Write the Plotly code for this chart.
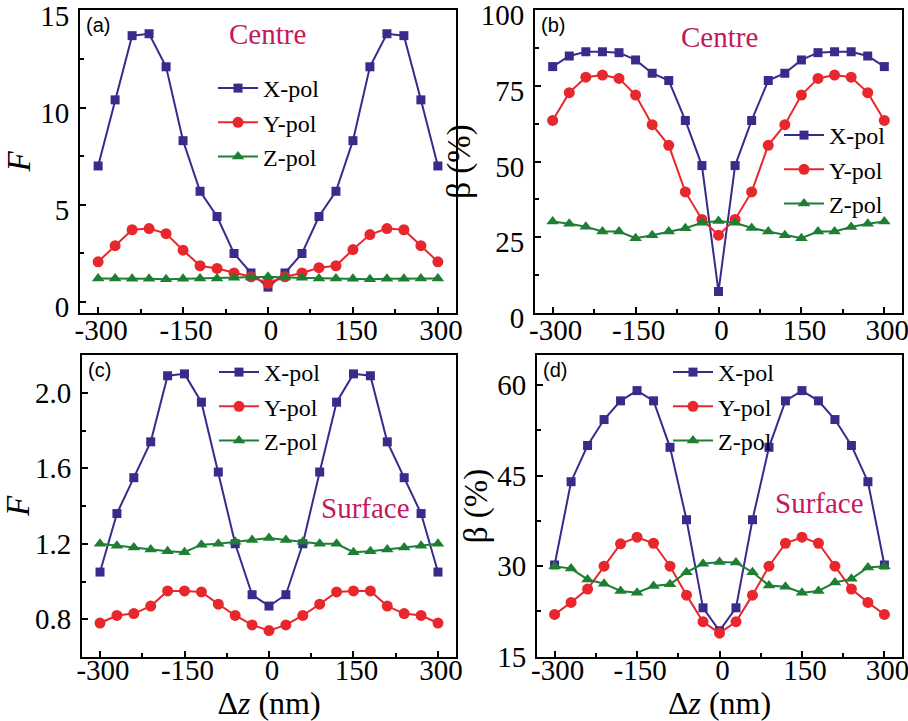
import plotly.graph_objects as go

dz = [-300, -270, -240, -210, -180, -150, -120, -90, -60, -30, 0,
      30, 60, 90, 120, 150, 180, 210, 240, 270, 300]

# (a) Centre, enhancement factor F
a_x = [7.0, 10.4, 13.7, 13.8, 12.1, 8.3, 5.7, 4.4, 2.5, 1.5, 0.77,
       1.5, 2.5, 4.4, 5.7, 8.3, 12.1, 13.8, 13.7, 10.4, 7.0]
a_y = [2.07, 2.9, 3.72, 3.78, 3.52, 2.67, 1.87, 1.73, 1.5, 1.3, 0.97,
       1.3, 1.5, 1.77, 1.87, 2.7, 3.47, 3.78, 3.72, 2.9, 2.07]
a_z = [1.22, 1.22, 1.2, 1.2, 1.18, 1.2, 1.22, 1.22, 1.25, 1.27, 1.3,
       1.27, 1.25, 1.22, 1.22, 1.2, 1.18, 1.2, 1.2, 1.22, 1.22]

# (b) Centre, beta (%)
b_x = [81.4, 84.9, 86.3, 86.3, 86.0, 83.6, 79.2, 76.8, 63.6, 48.7, 7.1,
       48.7, 63.6, 76.8, 79.2, 83.6, 86.0, 86.3, 86.3, 84.9, 81.4]
b_y = [63.6, 72.8, 77.9, 78.6, 77.5, 72.0, 62.2, 55.4, 40.0, 30.9, 25.7,
       30.9, 40.0, 55.4, 62.2, 72.0, 77.5, 78.6, 77.9, 72.8, 63.6]
b_z = [30.2, 29.5, 28.5, 26.9, 26.9, 24.7, 25.7, 26.9, 28.0, 29.8, 30.4,
       29.8, 28.1, 26.9, 25.7, 24.7, 26.9, 26.9, 28.4, 29.5, 30.2]

# (c) Surface, F
c_x = [1.05, 1.36, 1.55, 1.74, 2.09, 2.10, 1.95, 1.58, 1.20, 0.93, 0.87,
       0.93, 1.20, 1.58, 1.95, 2.10, 2.09, 1.74, 1.55, 1.36, 1.05]
c_y = [0.78, 0.82, 0.83, 0.87, 0.95, 0.95, 0.945, 0.88, 0.82, 0.77, 0.74,
       0.77, 0.82, 0.88, 0.945, 0.95, 0.95, 0.87, 0.83, 0.82, 0.78]
c_z = [1.20, 1.19, 1.18, 1.17, 1.16, 1.155, 1.195, 1.20, 1.21, 1.22, 1.23,
       1.22, 1.21, 1.20, 1.20, 1.155, 1.16, 1.17, 1.18, 1.19, 1.20]

# (d) Surface, beta (%)
d_x = [30.2, 44.0, 50.0, 54.3, 57.4, 59.1, 57.4, 49.7, 37.7, 23.1, 19.3,
       23.1, 37.7, 49.7, 57.4, 59.1, 57.4, 54.3, 50.0, 44.0, 30.2]
d_y = [22.0, 24.0, 26.2, 30.0, 33.7, 34.8, 33.8, 30.0, 25.2, 20.8, 18.9,
       20.8, 25.2, 30.0, 33.8, 34.8, 33.8, 30.0, 26.2, 24.0, 22.0]
d_z = [30.0, 29.6, 27.8, 27.1, 25.9, 25.6, 26.7, 27.0, 29.0, 30.4, 30.7,
       30.6, 29.0, 26.8, 26.6, 25.6, 25.9, 27.3, 27.9, 29.8, 30.0]

series_names = ["X-pol", "Y-pol", "Z-pol"]
colors = ["#3a2a8c", "#e8272c", "#1e7e34"]
symbols = ["square", "circle", "triangle-up"]
msizes = [9, 11, 11]

x_ticks = [-300, -150, 0, 150, 300]
x_minor = [-225, -75, 75, 225]

W, H = 908, 721
def px_x(p):
    return p / W
def px_y(p):
    return 1 - p / H

panels = [
    dict(name="a", data=[a_x, a_y, a_z], xd=(80, 456), yd=(10, 313),
         yr=[-0.56, 15.02], yt=[0, 5, 10, 15], ym=[2.5, 7.5, 12.5], fmt="",
         ytitle="<i>F</i>", legend="legend", yshift=5, xstand=-10,
         leg=(213, 66), label="Centre", lab=(267, 34)),
    dict(name="b", data=[b_x, b_y, b_z], xd=(535, 902), yd=(10, 313),
         yr=[0, 100.1], yt=[0, 25, 50, 75, 100], ym=[12.5, 37.5, 62.5, 87.5],
         fmt="", ytitle="β (%)", legend="legend2", yshift=5, xstand=-10,
         leg=(779, 113), label="Centre", lab=(719, 37)),
    dict(name="c", data=[c_x, c_y, c_z], xd=(82, 456), yd=(355, 657),
         yr=[0.6, 2.2], yt=[0.8, 1.2, 1.6, 2.0], ym=[1.0, 1.4, 1.8],
         fmt=".1f", ytitle="<i>F</i>", legend="legend3", yshift=0, xstand=-14,
         leg=(214, 350), label="Surface", lab=(365, 508)),
    dict(name="d", data=[d_x, d_y, d_z], xd=(537, 902), yd=(355, 657),
         yr=[14.95, 65], yt=[15, 30, 45, 60], ym=[22.5, 37.5, 52.5],
         fmt="", ytitle="β (%)", legend="legend4", yshift=0, xstand=-14,
         leg=(668, 350), label="Surface", lab=(819, 503)),
]

fig = go.Figure()
SERIF = "Liberation Serif"
TICK_SIZE = 29
layout = dict(template="none", width=W, height=H,
              margin=dict(l=0, r=0, t=0, b=0, autoexpand=False),
              paper_bgcolor="white", plot_bgcolor="white",
              font=dict(family=SERIF, color="black", size=28),
              annotations=[])

for i, p in enumerate(panels):
    n = "" if i == 0 else str(i + 1)
    xa, ya = "x" + n, "y" + n
    for k in range(3):
        fig.add_trace(go.Scatter(
            x=dz, y=p["data"][k], name=series_names[k], mode="lines+markers",
            xaxis=xa, yaxis=ya, legend=p["legend"],
            line=dict(color=colors[k], width=2),
            marker=dict(symbol=symbols[k], size=msizes[k], color=colors[k])))
    layout["xaxis" + n] = dict(
        automargin=False,
        showgrid=False, zeroline=False, showline=True,
        linecolor="black", linewidth=2, mirror=True,
        ticks="inside", ticklen=6, tickwidth=2, tickcolor="black",
        tickfont=dict(family=SERIF, size=TICK_SIZE, color="black"),
        ticklabeloverflow="allow", ticklabelstandoff=p["xstand"],
        ticklabelshift=3,
        domain=[px_x(p["xd"][0]), px_x(p["xd"][1])],
        range=[-332, 332], tickmode="array",
        tickvals=x_ticks, ticktext=[str(v) for v in x_ticks],
        minor=dict(tickmode="array", tickvals=x_minor,
                   ticks="inside", ticklen=4, tickwidth=2, tickcolor="black"),
        anchor=ya,
        title=dict(text="Δ<i>z</i> (nm)" if p["name"] in ("c", "d") else "",
                   font=dict(family=SERIF, size=32), standoff=16))
    layout["yaxis" + n] = dict(
        automargin=False,
        showgrid=False, zeroline=False, showline=True,
        linecolor="black", linewidth=2, mirror=True,
        ticks="inside", ticklen=6, tickwidth=2, tickcolor="black",
        tickfont=dict(family=SERIF, size=TICK_SIZE, color="black"),
        ticklabeloverflow="allow", ticklabelstandoff=3,
        ticklabelshift=p["yshift"],
        domain=[px_y(p["yd"][1]), px_y(p["yd"][0])],
        range=p["yr"], tickmode="array", tickvals=p["yt"],
        tickformat=p["fmt"],
        minor=dict(tickmode="array", tickvals=p["ym"], ticks="inside",
                   ticklen=4, tickwidth=2, tickcolor="black"),
        anchor=xa,
        title=dict(text=p["ytitle"], font=dict(family=SERIF, size=33),
                   standoff=0))
    layout[p["legend"]] = dict(
        x=px_x(p["leg"][0]), y=px_y(p["leg"][1]), xanchor="left", yanchor="top",
        bgcolor="rgba(0,0,0,0)", font=dict(family=SERIF, size=24),
        itemwidth=40, tracegroupgap=0)
    layout["annotations"].append(dict(
        text="(" + p["name"] + ")", xref="paper", yref="paper",
        x=px_x(p["xd"][0] + 4), y=px_y(p["yd"][0] + 2), xanchor="left",
        yanchor="top", showarrow=False,
        font=dict(family="Liberation Sans", size=20)))
    layout["annotations"].append(dict(
        text=p["label"], xref="paper", yref="paper",
        x=px_x(p["lab"][0]), y=px_y(p["lab"][1]), xanchor="center",
        yanchor="middle", showarrow=False,
        font=dict(family=SERIF, size=29, color="#c41a5c")))

fig.update_layout(**layout)
fig.write_html("out.html")
